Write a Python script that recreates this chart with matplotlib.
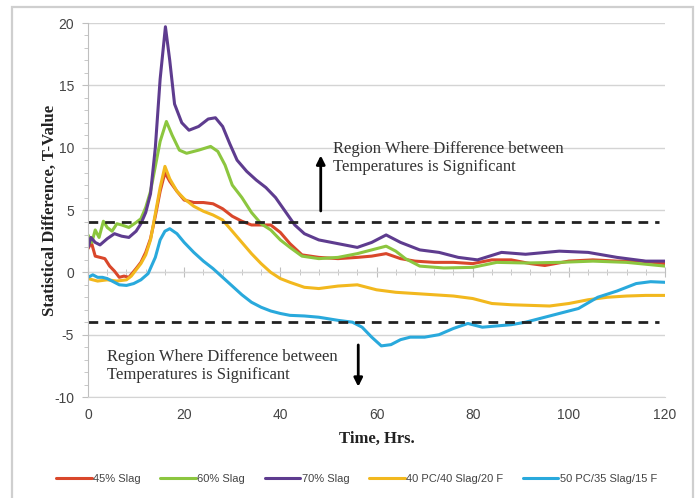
import matplotlib
matplotlib.use("Agg")
import matplotlib.pyplot as plt
from matplotlib.patches import Rectangle
from matplotlib.ticker import MultipleLocator

plt.rcParams["axes.unicode_minus"] = False

# ---------------------------------------------------------------------------
# Data
# ---------------------------------------------------------------------------

t_45 = [0, 0.7, 1.5, 2.5, 3.5, 4.5, 5.5, 6.5, 7.5, 8.5, 10, 11, 12, 13, 14, 15, 16,
        17, 18.5, 20, 22, 24, 26, 28, 30, 32, 34, 36, 38, 40, 42, 44.5, 48, 52, 56,
        59, 62, 65, 68, 72, 76, 80, 84, 88, 92, 95, 100, 105, 110, 115, 120]
v_45 = [1.9, 2.4, 1.3, 1.2, 1.1, 0.5, 0.1, -0.4, -0.3, -0.4, 0.3, 0.8, 1.6, 2.7, 4.5,
        6.5, 8.0, 7.3, 6.5, 5.8, 5.6, 5.6, 5.5, 5.1, 4.5, 4.1, 3.8, 3.8, 3.8, 3.2, 2.3,
        1.4, 1.2, 1.1, 1.2, 1.3, 1.5, 1.1, 0.9, 0.8, 0.8, 0.7, 1.0, 1.0, 0.7, 0.55,
        0.9, 1.0, 0.9, 0.9, 0.7]

t_60 = [0, 0.8, 1.5, 2.3, 3.2, 4, 5, 6, 7, 8.5, 10, 11, 12, 13, 14, 15, 16.3, 17.5,
        19, 20.5, 23, 25.5, 27, 28.5, 30, 32, 34, 36, 38, 40, 42, 44.5, 48, 52, 56,
        59, 62, 64, 66, 69, 74, 80, 85, 91, 98, 105, 112, 120]
v_60 = [3.0, 2.4, 3.4, 2.8, 4.1, 3.6, 3.3, 3.9, 3.8, 3.6, 4.0, 4.3, 5.2, 6.5, 8.5,
        10.5, 12.1, 11.0, 9.8, 9.55, 9.8, 10.1, 9.7, 8.6, 7.0, 6.0, 4.8, 3.9, 3.4,
        2.6, 2.0, 1.3, 1.1, 1.2, 1.5, 1.8, 2.1, 1.7, 1.1, 0.5, 0.35, 0.4, 0.8, 0.75,
        0.8, 0.9, 0.8, 0.5]

t_70 = [0, 0.6, 1.5, 2.5, 4, 5.5, 7, 8.5, 10, 11, 12, 13, 14, 15, 16.1, 17, 18, 19.5,
        21, 23, 25, 26.5, 28, 29.5, 31, 33, 35, 37, 39, 41, 43, 45, 48, 52, 56, 59,
        62, 65, 69, 73, 77, 81, 86, 91, 98, 104, 110, 116, 120]
v_70 = [2.0, 2.8, 2.4, 2.2, 2.7, 3.1, 2.9, 2.8, 3.3, 3.9, 4.8, 6.3, 10.0, 15.5, 19.7,
        17.0, 13.5, 12.0, 11.4, 11.7, 12.3, 12.4, 11.7, 10.3, 9.0, 8.1, 7.4, 6.8,
        6.0, 4.9, 3.8, 3.1, 2.6, 2.3, 2.0, 2.4, 3.0, 2.4, 1.8, 1.6, 1.2, 1.0, 1.6,
        1.45, 1.7, 1.6, 1.2, 0.9, 0.9]

t_pc40 = [0, 2, 4, 6, 8, 9, 10, 11, 12, 13, 14, 15, 16, 17, 18.5, 20, 22, 24, 26, 28,
          30, 32, 34, 36, 38, 40, 42, 45, 48, 52, 56, 60, 64, 68, 72, 76, 80, 84, 88,
          92, 96, 100, 104, 108, 112, 116, 120]
v_pc40 = [-0.5, -0.7, -0.6, -0.7, -0.6, -0.3, 0.2, 0.7, 1.4, 2.6, 4.7, 6.8, 8.5, 7.5,
          6.5, 5.9, 5.3, 4.9, 4.6, 4.2, 3.3, 2.4, 1.5, 0.7, 0.0, -0.5, -0.8, -1.2,
          -1.3, -1.1, -1.0, -1.4, -1.6, -1.7, -1.8, -1.9, -2.1, -2.5, -2.6, -2.65,
          -2.7, -2.5, -2.2, -2.0, -1.9, -1.85, -1.85]

t_pc50 = [0, 1, 2, 3, 4, 5, 6.5, 8, 9.5, 11, 12.5, 14, 15, 16, 17, 18.5, 20, 22, 24,
          26, 28, 30, 32, 34, 36, 38, 40, 42, 45, 48, 52, 55, 57, 59, 61, 63, 65, 67,
          70, 73, 76, 79, 82, 85, 88, 91, 95, 98, 102, 106, 110, 114, 117, 120]
v_pc50 = [-0.4, -0.2, -0.4, -0.4, -0.5, -0.7, -1.0, -1.05, -0.9, -0.6, -0.1, 1.2, 2.6,
          3.3, 3.5, 3.1, 2.4, 1.6, 0.9, 0.3, -0.4, -1.1, -1.8, -2.4, -2.8, -3.1, -3.3,
          -3.45, -3.5, -3.6, -3.85, -4.0, -4.4, -5.2, -5.9, -5.8, -5.4, -5.2, -5.2,
          -5.0, -4.5, -4.1, -4.4, -4.3, -4.2, -4.0, -3.6, -3.3, -2.9, -2.0, -1.5,
          -0.9, -0.75, -0.8]

series_labels = ["45% Slag", "60% Slag", "70% Slag",
                 "40 PC/40 Slag/20 F", "50 PC/35 Slag/15 F"]
series_colors = ["#D9472B", "#8CC63F", "#5E3C8F", "#F2B81E", "#29A9DC"]

threshold = 4.0
region_text = "Region Where Difference between\nTemperatures is Significant"

# ---------------------------------------------------------------------------
# Figure
# ---------------------------------------------------------------------------

fig = plt.figure(figsize=(6.99, 4.98), dpi=100)
ax = fig.add_axes([0.1259, 0.2028, 0.8255, 0.751])

# light frame around the whole chart
fig.patches.append(Rectangle((0.017, -0.02), 0.974, 1.006, transform=fig.transFigure,
                             fill=False, edgecolor="#CFCFCF", linewidth=1.6))

series = [(t_45, v_45), (t_60, v_60), (t_70, v_70), (t_pc40, v_pc40), (t_pc50, v_pc50)]
for (t, v), label, color in zip(series, series_labels, series_colors):
    ax.plot(t, v, color=color, linewidth=2.2, label=label, solid_capstyle="round")

# significance thresholds
ax.axhline(threshold, xmin=0, xmax=0.99, color="#222222", linewidth=2.0,
           linestyle=(0, (3.5, 2.5)))
ax.axhline(-threshold, xmin=0, xmax=0.99, color="#222222", linewidth=2.0,
           linestyle=(0, (3.5, 2.5)))

ax.set_xlim(0, 120)
ax.set_ylim(-10, 20)
ax.yaxis.set_major_locator(MultipleLocator(5))
ax.yaxis.set_minor_locator(MultipleLocator(1))
ax.xaxis.set_major_locator(MultipleLocator(20))
ax.grid(True, axis="y", color="#D4D4D4", linewidth=1.0)
ax.set_axisbelow(True)

for side in ["top", "right"]:
    ax.spines[side].set_visible(False)
ax.spines["bottom"].set_color("#D4D4D4")
ax.spines["left"].set_color("#BFBFBF")
ax.tick_params(axis="x", length=0, pad=8, labelsize=10, labelcolor="#444444")
ax.tick_params(axis="y", which="major", length=4, color="#BFBFBF", pad=6,
               labelsize=10, labelcolor="#444444")
ax.tick_params(axis="y", which="minor", length=3, color="#BFBFBF")
for lbl in ax.get_xticklabels() + ax.get_yticklabels():
    lbl.set_fontfamily("Liberation Sans")

# horizontal axis line crossing at zero, with its tick marks
zero_axis = ax.secondary_xaxis(1 / 3)
zero_axis.spines["bottom"].set_color("#BFBFBF")
zero_axis.xaxis.set_major_locator(MultipleLocator(20))
zero_axis.xaxis.set_minor_locator(MultipleLocator(4))
zero_axis.tick_params(axis="x", which="major", direction="inout", length=7,
                      color="#BFBFBF", labelbottom=False)
zero_axis.tick_params(axis="x", which="minor", direction="inout", length=4,
                      color="#BFBFBF")

ax.set_xlabel("Time, Hrs.", fontfamily="Liberation Serif", fontweight="bold",
              fontsize=12, color="#222222", labelpad=6)
ax.set_ylabel("Statistical Difference, T-Value", fontfamily="Liberation Serif",
              fontweight="bold", fontsize=12, color="#222222", labelpad=-3)

# annotations
ax.text(51, 9.2, region_text, fontfamily="Liberation Serif", fontsize=12,
        color="#333333", va="center", ha="left", linespacing=1.15)
ax.text(4, -7.5, region_text, fontfamily="Liberation Serif", fontsize=12,
        color="#333333", va="center", ha="left", linespacing=1.15)
ax.annotate("", xy=(48.4, 9.6), xytext=(48.4, 4.7),
            arrowprops=dict(arrowstyle="-|>,head_length=0.5,head_width=0.25",
                            color="black", linewidth=2.0))
ax.annotate("", xy=(56.2, -9.4), xytext=(56.2, -5.6),
            arrowprops=dict(arrowstyle="-|>,head_length=0.5,head_width=0.25",
                            color="black", linewidth=2.0))

fig.legend(loc="center", bbox_to_anchor=(0.51, 0.038), ncol=5, frameon=False,
           prop={"family": "Liberation Sans", "size": 8}, handlelength=3.2,
           handletextpad=0.1, columnspacing=1.8, labelcolor="#444444")

fig.savefig("out.png", dpi=100)
